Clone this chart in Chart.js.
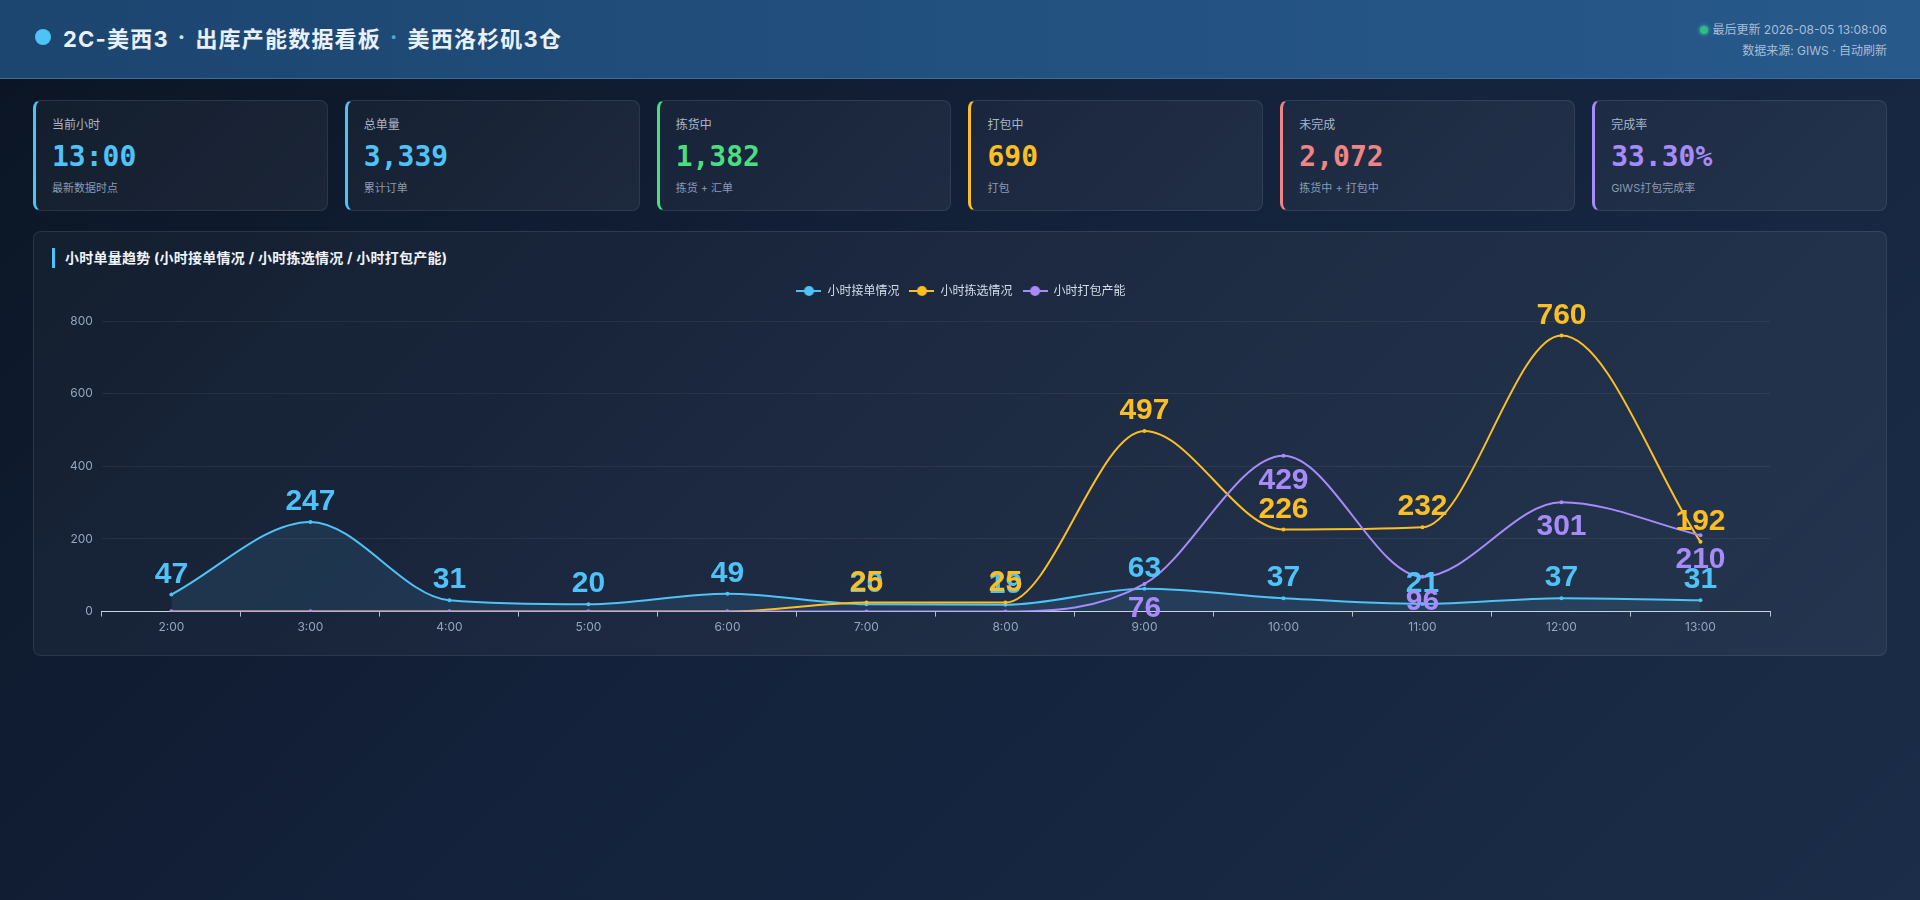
<!DOCTYPE html>
<html lang="zh-CN">
<head>
  <meta charset="UTF-8">
  <title>2C-美西3 出库产能数据看板</title>
  <script src="https://cdn.jsdelivr.net/npm/chart.js"></script>
  <style>
    * { box-sizing: border-box; margin: 0; padding: 0; }
    html, body { width: 1920px; height: 900px; overflow: hidden; }
    body {
      font-family: Inter, "Noto Sans CJK SC", sans-serif;
      background: linear-gradient(135deg, #0b1524 0%, #13213a 45%, #1b2d48 100%);
      color: #e6eef8;
    }
    header {
      height: 79px;
      padding: 0 33px 4px 35px;
      display: flex;
      align-items: center;
      justify-content: space-between;
      background: linear-gradient(90deg, #1c456f 0%, #22507f 50%, #27598b 100%);
      border-bottom: 1px solid #3d6d9c;
    }
    .title { display: flex; align-items: center; font-size: 22px; font-weight: 700; letter-spacing: 1.2px; color: #e8f0fa; }
    .title .dot { width: 16px; height: 16px; border-radius: 50%; background: #4fc3f7; margin-right: 12px; }
    .title .sep { margin: 0 9px; color: #cfe0f0; }
    .title .sep.alt { color: #4fa8dc; }
    .meta { text-align: right; font-size: 12px; color: #a9bdd6; line-height: 21px; margin-top: 6px; }
    .meta .live { display: inline-block; width: 8px; height: 8px; border-radius: 50%; background: #34b98a; margin-right: 4px; box-shadow: 0 0 4px #34d399; }
    main { padding: 21px 33px 0 33px; }
    .cards { display: flex; gap: 17px; }
    .card {
      flex: 1;
      height: 111px;
      padding: 15px 16px 0 16px;
      border-radius: 8px;
      background: linear-gradient(135deg, rgba(255,255,255,0.035), rgba(255,255,255,0.055));
      border: 1px solid rgba(255,255,255,0.09);
      border-left: 3px solid #4fc3f7;
    }
    .card .label { font-size: 12px; color: #a8b8cc; line-height: 18px; }
    .card .value { font-family: "DejaVu Sans Mono", monospace; font-weight: 700; font-size: 28px; line-height: 34px; margin-top: 6px; }
    .card .sub { font-size: 11px; color: #8b9bb1; line-height: 16px; margin-top: 6px; }
    .panel {
      position: relative;
      margin-top: 20px;
      height: 425px;
      border-radius: 8px;
      background: linear-gradient(135deg, rgba(255,255,255,0.03), rgba(255,255,255,0.05));
      border: 1px solid rgba(255,255,255,0.09);
    }
    .panel h3 {
      position: absolute; left: 18px; top: 16px;
      font-size: 14px; font-weight: 700; color: #eef3fa; letter-spacing: 0.25px;
      padding-left: 10px; border-left: 3px solid #4fc3f7; line-height: 20px;
    }
    .chart-box { position: absolute; left: 16px; top: 43px; width: 1822px; height: 372px; }
  </style>
</head>
<body>
  <header>
    <div class="title">
      <span class="dot"></span>
      <span>2C-美西3</span><span class="sep">·</span><span>出库产能数据看板</span><span class="sep alt">·</span><span>美西洛杉矶3仓</span>
    </div>
    <div class="meta">
      <div><span class="live"></span>最后更新 2026-08-05 13:08:06</div>
      <div>数据来源: GIWS · 自动刷新</div>
    </div>
  </header>

  <main>
    <div class="cards" id="cards"></div>

    <div class="panel">
      <h3>小时单量趋势 (小时接单情况 / 小时拣选情况 / 小时打包产能)</h3>
      <div class="chart-box"><canvas id="hourlyChart"></canvas></div>
    </div>
  </main>

  <script>
    // KPI cards
    const cardLabels = ['当前小时', '总单量', '拣货中', '打包中', '未完成', '完成率'];
    const cardValues = ['13:00', '3,339', '1,382', '690', '2,072', '33.30%'];
    const cardNotes = ['最新数据时点', '累计订单', '拣货 + 汇单', '打包', '拣货中 + 打包中', 'GIWS打包完成率'];
    const cardColors = ['#4fc3f7', '#4fc3f7', '#4ade80', '#fbbf24', '#f08585', '#a78bfa'];

    // hourly series
    const hours = ['2:00', '3:00', '4:00', '5:00', '6:00', '7:00', '8:00', '9:00', '10:00', '11:00', '12:00', '13:00'];
    const ordersIn = [47, 247, 31, 20, 49, 20, 19, 63, 37, 21, 37, 31];
    const picked = [0, 0, 0, 0, 0, 25, 25, 497, 226, 232, 760, 192];
    const packed = [0, 0, 0, 0, 0, 0, 0, 76, 429, 96, 301, 210];
    const yMax = 800;
    const yStep = 200;

    const blue = '#4fc3f7';
    const yellow = '#fbbf24';
    const purple = '#a78bfa';

    // build the cards
    const cardsEl = document.getElementById('cards');
    cardLabels.forEach((label, i) => {
      const card = document.createElement('div');
      card.className = 'card';
      card.style.borderLeftColor = cardColors[i];
      card.innerHTML = `
        <div class="label">${label}</div>
        <div class="value" style="color:${cardColors[i]}">${cardValues[i]}</div>
        <div class="sub">${cardNotes[i]}</div>
      `;
      cardsEl.appendChild(card);
    });

    // legend icon: short line with a dot in the middle
    function legendIcon(color) {
      const c = document.createElement('canvas');
      c.width = 25;
      c.height = 12;
      const g = c.getContext('2d');
      g.strokeStyle = color;
      g.lineWidth = 2;
      g.beginPath();
      g.moveTo(0, 6);
      g.lineTo(25, 6);
      g.stroke();
      g.fillStyle = color;
      g.beginPath();
      g.arc(12.5, 6, 5, 0, Math.PI * 2);
      g.fill();
      return c;
    }

    // big value labels next to each point (zeros are skipped)
    const valueLabels = {
      id: 'valueLabels',
      afterDatasetsDraw(chart) {
        const ctx = chart.ctx;
        chart.data.datasets.forEach((ds, i) => {
          const meta = chart.getDatasetMeta(i);
          meta.data.forEach((pt, j) => {
            const v = ds.data[j];
            if (!v) return;
            ctx.save();
            ctx.font = 'bold 30px "Liberation Sans", Arial, sans-serif';
            ctx.fillStyle = ds.borderColor;
            ctx.textAlign = 'center';
            ctx.textBaseline = 'alphabetic';
            const y = ds.labelBelow ? pt.y + 33 : pt.y - 12;
            ctx.fillText(String(v), pt.x, y);
            ctx.restore();
          });
        });
      }
    };

    // a little extra room under the legend
    const legendGap = {
      id: 'legendGap',
      beforeInit(chart) {
        const fit = chart.legend.fit;
        chart.legend.fit = function () {
          fit.bind(chart.legend)();
          this.height += 14;
        };
      }
    };

    Chart.defaults.font.family = 'Inter, "Noto Sans CJK SC", sans-serif';
    Chart.defaults.color = '#93a6bf';

    const ctx = document.getElementById('hourlyChart').getContext('2d');
    new Chart(ctx, {
      type: 'line',
      data: {
        labels: hours,
        datasets: [
          {
            label: '小时接单情况',
            data: ordersIn,
            borderColor: blue,
            backgroundColor: 'rgba(79, 195, 247, 0.11)',
            pointBackgroundColor: blue,
            fill: 'origin',
            order: 2
          },
          {
            label: '小时拣选情况',
            data: picked,
            borderColor: yellow,
            backgroundColor: yellow,
            pointBackgroundColor: yellow,
            fill: false,
            order: 1
          },
          {
            label: '小时打包产能',
            data: packed,
            borderColor: purple,
            backgroundColor: purple,
            pointBackgroundColor: purple,
            fill: false,
            order: 0,
            labelBelow: true
          }
        ]
      },
      options: {
        responsive: true,
        maintainAspectRatio: false,
        animation: false,
        layout: { padding: { left: 11, right: 11, top: 0, bottom: 8 } },
        elements: {
          line: { borderWidth: 2, cubicInterpolationMode: 'monotone' },
          point: { radius: 2, borderWidth: 0, hoverRadius: 4 }
        },
        plugins: {
          legend: {
            position: 'top',
            labels: {
              color: '#d3deea',
              font: { size: 12 },
              usePointStyle: true,
              pointStyleWidth: 25,
              boxHeight: 12,
              padding: 10,
              generateLabels(chart) {
                return chart.data.datasets.map((ds, i) => ({
                  text: ds.label,
                  fillStyle: ds.borderColor,
                  strokeStyle: ds.borderColor,
                  fontColor: '#d3deea',
                  pointStyle: legendIcon(ds.borderColor),
                  hidden: !chart.isDatasetVisible(i),
                  datasetIndex: i,
                  lineWidth: 0
                }));
              }
            }
          },
          tooltip: { enabled: true }
        },
        scales: {
          x: {
            offset: true,
            grid: {
              offset: true,
              drawOnChartArea: false,
              drawTicks: true,
              tickLength: 5,
              color: 'rgba(220, 228, 240, 0.8)'
            },
            border: { display: true, color: '#c9d3e2', width: 1 },
            ticks: { color: '#93a6bf', font: { size: 12 }, padding: 4 }
          },
          y: {
            min: 0,
            max: yMax,
            ticks: { stepSize: yStep, color: '#93a6bf', font: { size: 12 }, padding: 9 },
            grid: { color: 'rgba(255, 255, 255, 0.06)', drawTicks: false },
            border: { display: false }
          },
          // empty right-hand gutter, keeps the plot clear of the panel edge
          gutter: {
            position: 'right',
            min: 0,
            max: yMax,
            grid: { display: false },
            border: { display: false },
            ticks: { display: false },
            afterFit(scale) { scale.width = 91; }
          }
        }
      },
      plugins: [valueLabels, legendGap]
    });
  </script>
</body>
</html>
